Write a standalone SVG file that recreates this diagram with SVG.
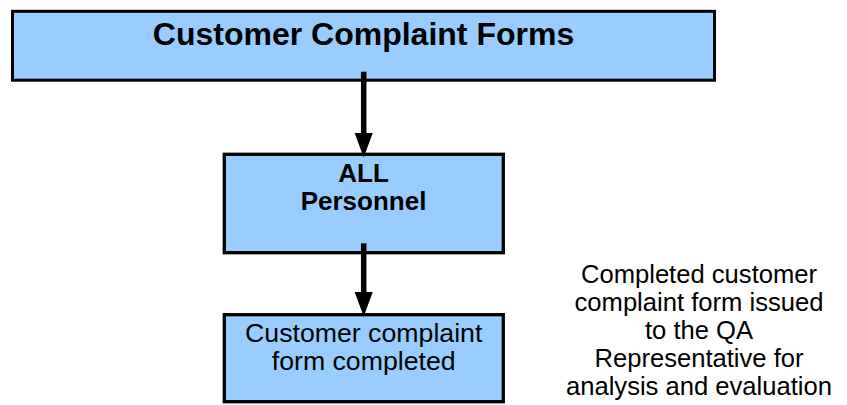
<svg xmlns="http://www.w3.org/2000/svg" width="847" height="405" viewBox="0 0 847 405">
  <defs>
    <style>
      .box { fill: #99CCFF; stroke: #000000; }
      .t { font-family: "Liberation Sans", Arial, sans-serif; fill: #000000; text-anchor: middle; }
      .b { font-weight: bold; }
      .conn { stroke: #000000; stroke-width: 5.5; fill: none; }
    </style>
    <marker id="arrow" markerUnits="userSpaceOnUse" markerWidth="25" markerHeight="19" viewBox="0 -9.5 25 19" refX="0.5" refY="0" orient="auto">
      <path d="M0,-9.25 L25,0 L0,9.25 Z" fill="#000000"/>
    </marker>
  </defs>
  <rect width="847" height="405" fill="#FFFFFF"/>

  <g id="node-forms">
    <rect class="box" x="12.5" y="11.3" width="702" height="68.9" stroke-width="3"/>
    <text class="t b" x="363.5" y="45" font-size="32">Customer Complaint Forms</text>
  </g>

  <g id="node-personnel">
    <rect class="box" x="224.3" y="154.3" width="279" height="98.4" stroke-width="3.3"/>
    <text class="t b" font-size="26"><tspan x="363.5" y="181.7">ALL</tspan><tspan x="363.5" y="210">Personnel</tspan></text>
  </g>

  <g id="node-completed">
    <rect class="box" x="224.3" y="314.7" width="279" height="87" stroke-width="3.3"/>
    <text class="t" font-size="26.7"><tspan x="363.7" y="342">Customer complaint</tspan><tspan x="363.7" y="370">form completed</tspan></text>
  </g>

  <g id="note">
    <text class="t" font-size="25.6"><tspan x="699" y="283">Completed customer</tspan><tspan x="699" y="311">complaint form issued</tspan><tspan x="699" y="339">to the QA</tspan><tspan x="699" y="367">Representative for</tspan><tspan x="699" y="395">analysis and evaluation</tspan></text>
  </g>

  <g id="connectors">
    <line class="conn" x1="363.7" y1="71.7" x2="363.7" y2="133" marker-end="url(#arrow)"/>
    <line class="conn" x1="363.7" y1="243.3" x2="363.7" y2="292" marker-end="url(#arrow)"/>
  </g>
</svg>
